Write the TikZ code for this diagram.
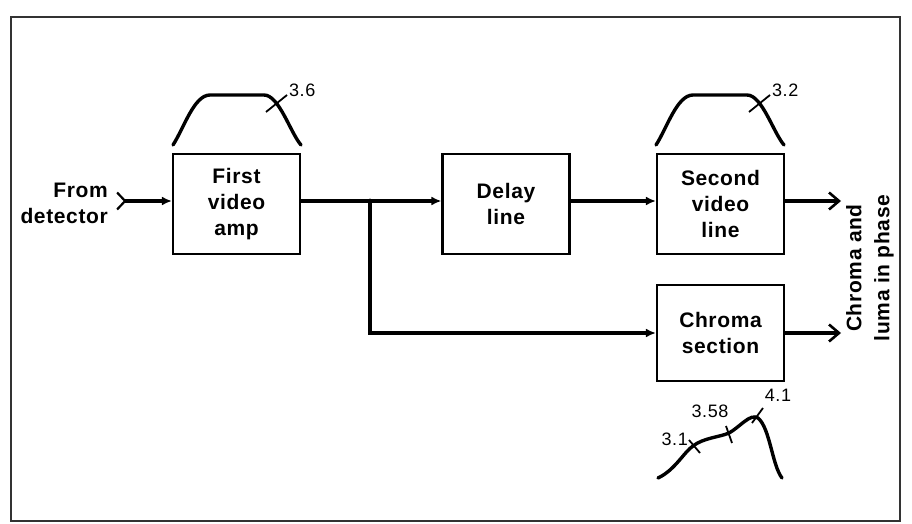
\documentclass[tikz,border=0pt]{standalone}
\usepackage{fontspec}
\setmainfont{Liberation Sans}[LetterSpace=3]
\usetikzlibrary{arrows.meta}

\tikzset{
  stage/.style={draw, line width=2.2pt, minimum width=127pt, minimum height=100pt,
    align=center, inner sep=0pt, font=\fontsize{21}{26}\selectfont\bfseries},
  sig/.style={line width=3.4pt, -{Latex[length=10pt,width=9pt]}},
  outsig/.style={line width=3.6pt, -{Straight Barb[length=10pt,width=17pt,line width=2.6pt]}},
  band/.style={line width=3.4pt, line cap=round},
  tickmark/.style={line width=1.8pt},
  freq/.style={font=\fontsize{18}{20}\selectfont, inner sep=1pt}
}

\begin{document}
\begin{tikzpicture}[x=1pt,y=-1pt]
        \useasboundingbox (0,0) rectangle (912,524);
        % Outer frame
        \draw[line width=1.8pt, black!80] (11,17) rectangle (900,521);

        % Blocks
        \node[stage] (amp) at (236.5,204) {First\\video\\amp};
        \node[stage] (delay) at (506,204) {Delay\\line};
        \node[stage] (second) at (720.5,204) {Second\\video\\line};
        \node[stage, minimum height=96pt] (chroma) at (720.5,333) {Chroma\\section};

        % Input
        \node[align=right, anchor=east, inner sep=0pt, font=\fontsize{21}{26}\selectfont\bfseries] (src) at (108,203) {From\\detector};
        \coordinate (in) at (116,201);
        \draw[line width=3.4pt, {Straight Barb[reversed,length=8pt,width=17pt,line width=2.2pt]}-{Latex[length=10pt,width=9pt]}] (in) -- (amp.west |- in);

        % Signal paths
        \coordinate (split) at (370,201);
        \draw[sig] (amp.east |- split) -- (delay.west |- split);
        \draw[sig] (delay.east |- split) -- (second.west |- split);
        \draw[sig] (split) |- (chroma.west);
        \fill (split) circle (2.4pt);

        % Outputs
        \coordinate (out1) at (841,201);
        \coordinate (out2) at (841,333);
        \draw[outsig] (second.east |- out1) -- (out1);
        \draw[outsig] (chroma.east) -- (out2);
        \node[rotate=90, align=center, inner sep=0pt, font=\fontsize{21}{28}\selectfont\bfseries] (result) at (870,268) {Chroma and\\luma in phase};

        % Response of first video amp
        \draw[band] (173,145) .. controls (184,128) and (194,95) .. (210,95) -- (264,95)
                    .. controls (279,95) and (290,132) .. (301,145);
        \draw[tickmark] (266,112) -- (287,95);
        \node[freq, anchor=west] (f1) at (288,90) {3.6};

        % Response of second video line
        \draw[band] (656,145) .. controls (667,128) and (677,95) .. (693,95) -- (747,95)
                    .. controls (762,95) and (773,132) .. (784,145);
        \draw[tickmark] (749,112) -- (770,95);
        \node[freq, anchor=west] (f2) at (771,90) {3.2};

        % Response of chroma section
        \draw[band] (658,478) .. controls (675,470) and (684,452) .. (693,446)
                    .. controls (703,438) and (720,437) .. (729,433)
                    .. controls (740,427) and (750,413) .. (758,418)
                    .. controls (770,428) and (772,465) .. (782,478);
        \draw[tickmark] (689,440) -- (700,453);
        \draw[tickmark] (726,426) -- (732,443);
        \draw[tickmark] (752,423) -- (763,408);
        \node[freq, anchor=east] (f3) at (689,439) {3.1};
        \node[freq] (f4) at (710,411) {3.58};
        \node[freq] (f5) at (778,395) {4.1};
\end{tikzpicture}
\end{document}
